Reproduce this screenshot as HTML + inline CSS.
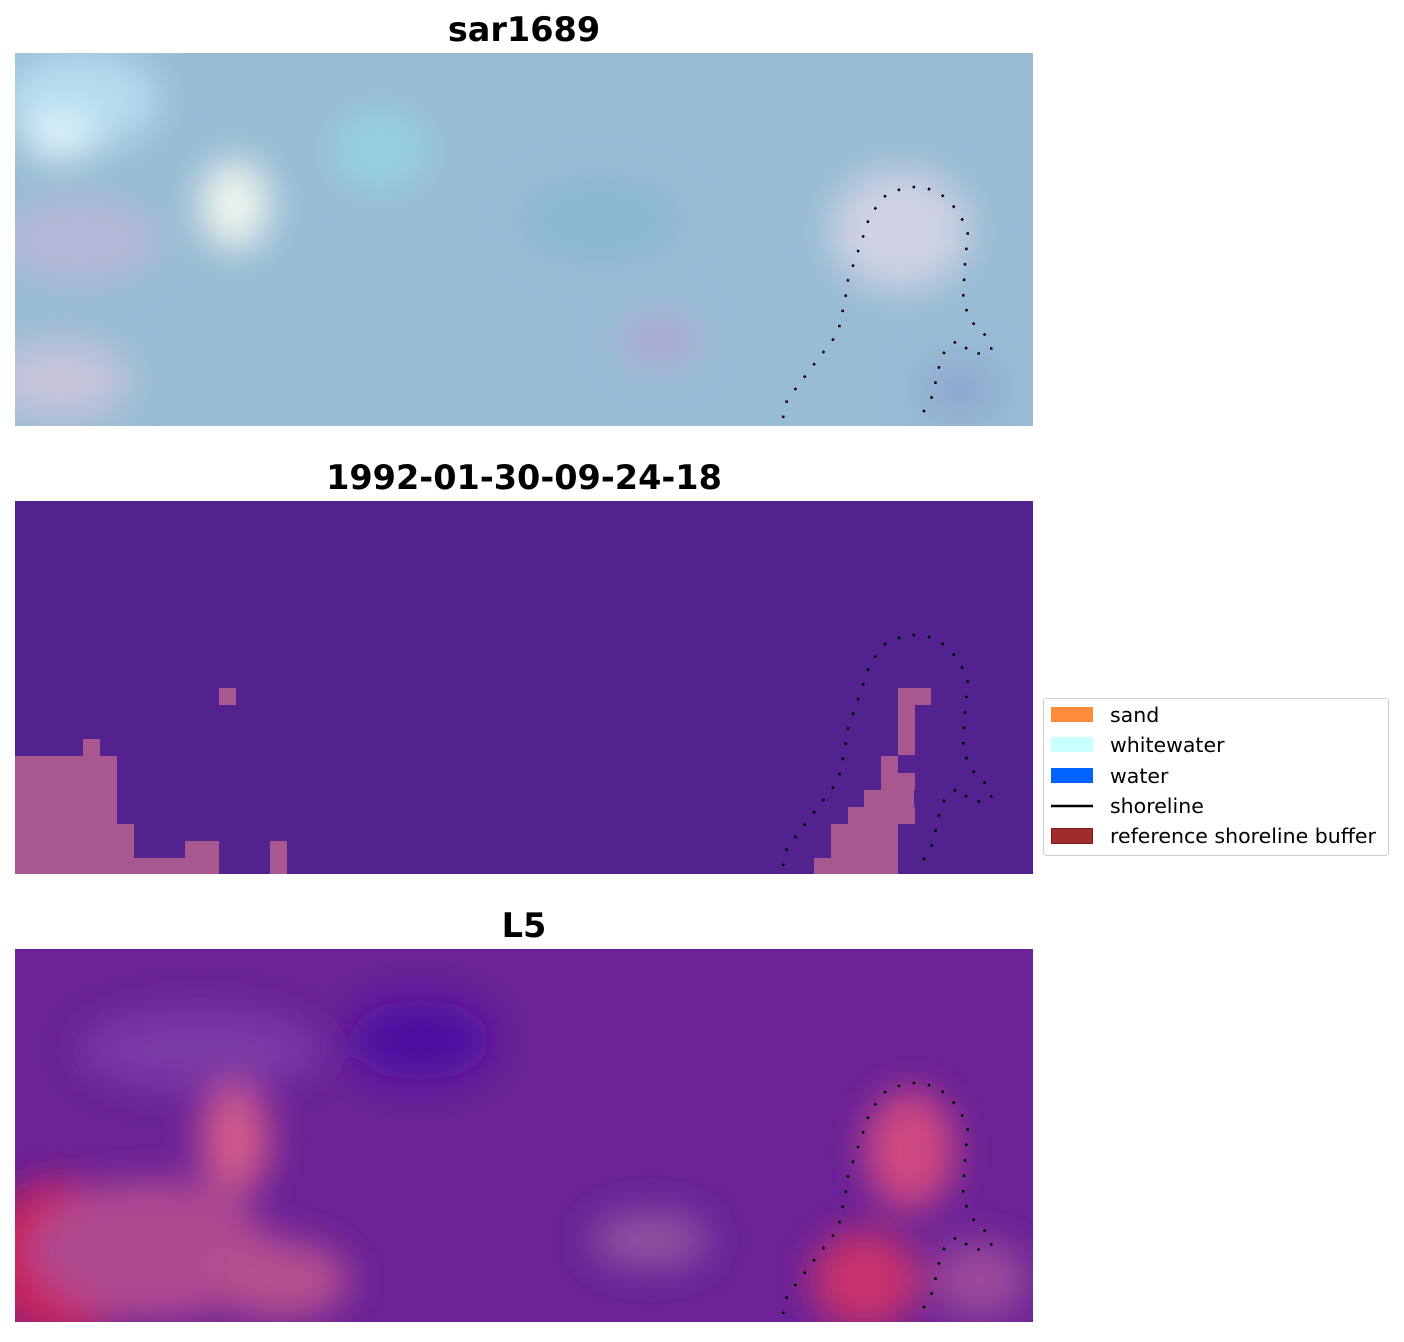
<!DOCTYPE html>
<html><head><meta charset="utf-8"><style>
body{margin:0;background:#fff;width:1404px;height:1337px;overflow:hidden}
svg text{font-family:"DejaVu Sans","Liberation Sans",sans-serif}
</style></head><body>
<svg width="1404" height="1337" xmlns="http://www.w3.org/2000/svg">
<defs>
<filter id="b" x="-50%" y="-50%" width="200%" height="200%"><feGaussianBlur stdDeviation="18"/></filter>
<clipPath id="c1"><rect x="15" y="53" width="1018" height="373"/></clipPath>
<clipPath id="c3"><rect x="15" y="949" width="1018" height="373"/></clipPath>
<g id="shore"><polyline fill="none" stroke="#000" stroke-width="2.5" stroke-dasharray="2.5 13" points="783,418 787,400 800,383 812,367 825,350 838,333 845,300 848,280 855,260 862,240 870,215 886,195 906,187 923,187 940,193 957,210 968,230 965,265 963,300 970,320 985,335 992,350 973,355 958,340 945,350 938,370 933,395 920,418"/></g>
</defs>
<text x="524" y="41" font-size="33.5" font-weight="bold" text-anchor="middle">sar1689</text>
<text x="524" y="489" font-size="33.5" font-weight="bold" text-anchor="middle">1992-01-30-09-24-18</text>
<text x="524" y="937" font-size="33.5" font-weight="bold" text-anchor="middle">L5</text>
<!-- top -->
<g clip-path="url(#c1)">
<rect x="15" y="53" width="1018" height="373" fill="#98bcd4"/>
<g filter="url(#b)">
<ellipse cx="80" cy="100" rx="80" ry="50" fill="#b4dcef"/>
<ellipse cx="60" cy="135" rx="35" ry="25" fill="#e0f4fa"/>
<ellipse cx="235" cy="205" rx="35" ry="45" fill="#eef4ec"/>
<ellipse cx="380" cy="150" rx="50" ry="40" fill="#95d0e0"/>
<ellipse cx="80" cy="240" rx="80" ry="40" fill="#b6b8d8"/>
<ellipse cx="60" cy="380" rx="70" ry="40" fill="#c6c4dc"/>
<ellipse cx="660" cy="340" rx="40" ry="25" fill="#b0a8d0"/>
<ellipse cx="900" cy="230" rx="70" ry="60" fill="#d0d2e4"/>
<ellipse cx="960" cy="390" rx="40" ry="30" fill="#8fa8d0"/>
<ellipse cx="600" cy="220" rx="80" ry="40" fill="#8ab8d0"/>
</g>
<use href="#shore"/>
</g>
<!-- middle -->
<rect x="15" y="501" width="1018" height="373" fill="#52238f"/>
<g fill="#a8578f">
<rect x="219" y="688" width="17" height="17"/>
<rect x="83" y="739" width="17" height="17"/>
<rect x="15" y="756" width="102" height="118"/>
<rect x="117" y="824" width="17" height="50"/>
<rect x="134" y="858" width="85" height="16"/>
<rect x="185" y="841" width="34" height="33"/>
<rect x="270" y="841" width="17" height="33"/>
<rect x="898" y="688" width="33" height="17"/>
<rect x="898" y="705" width="17" height="50"/>
<rect x="881" y="756" width="17" height="34"/>
<rect x="898" y="773" width="17" height="17"/>
<rect x="864" y="790" width="50" height="17"/>
<rect x="848" y="807" width="50" height="17"/>
<rect x="898" y="807" width="17" height="17"/>
<rect x="831" y="824" width="67" height="34"/>
<rect x="814" y="858" width="84" height="16"/>
</g>
<use href="#shore" transform="translate(0,448)"/>
<!-- bottom -->
<g clip-path="url(#c3)">
<rect x="15" y="949" width="1018" height="373" fill="#6a2296"/>
<g filter="url(#b)">
<ellipse cx="420" cy="1040" rx="70" ry="40" fill="#4e0aa0"/>
<ellipse cx="200" cy="1050" rx="120" ry="40" fill="#7a3aa6"/>
<ellipse cx="235" cy="1140" rx="35" ry="55" fill="#d05a8a"/>
<ellipse cx="60" cy="1260" rx="80" ry="80" fill="#c8205a"/>
<ellipse cx="150" cy="1250" rx="120" ry="70" fill="#b04a90"/>
<ellipse cx="280" cy="1280" rx="70" ry="40" fill="#b5508e"/>
<ellipse cx="910" cy="1150" rx="45" ry="60" fill="#d04a80"/>
<ellipse cx="865" cy="1280" rx="55" ry="50" fill="#c8306a"/>
<ellipse cx="650" cy="1240" rx="60" ry="30" fill="#9050a0"/>
<ellipse cx="980" cy="1280" rx="50" ry="40" fill="#9a4a9a"/>
</g>
<use href="#shore" transform="translate(0,896)"/>
</g>
<!-- legend -->
<rect x="1043.5" y="698.5" width="345" height="157" rx="3" fill="#fff" stroke="#ccc"/>
<rect x="1051" y="707" width="42" height="15" fill="#ff8c3a"/>
<rect x="1051" y="737" width="42" height="15" fill="#c8ffff"/>
<rect x="1051" y="768" width="42" height="15" fill="#0062ff"/>
<line x1="1051" y1="806" x2="1093" y2="806" stroke="#000" stroke-width="2.5"/>
<rect x="1051.5" y="828.5" width="41" height="15" fill="#a02c2c" stroke="#7a1a1a"/>
<g font-size="20.5">
<text x="1110" y="722">sand</text>
<text x="1110" y="752">whitewater</text>
<text x="1110" y="783">water</text>
<text x="1110" y="813">shoreline</text>
<text x="1110" y="843">reference shoreline buffer</text>
</g>
</svg>
</body></html>
